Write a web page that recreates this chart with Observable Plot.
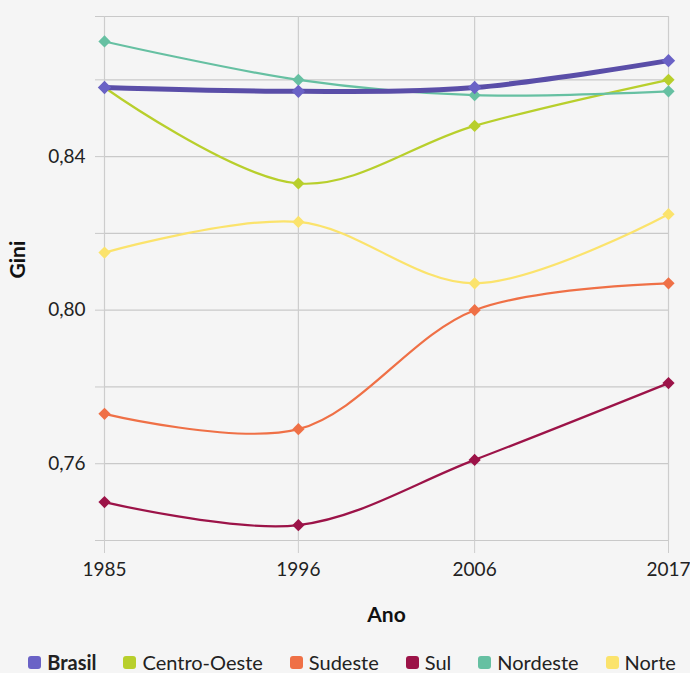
<!DOCTYPE html>
<html><head><meta charset="utf-8">
<script src="https://cdn.jsdelivr.net/npm/d3@7"></script>
<script src="https://cdn.jsdelivr.net/npm/@observablehq/plot@0.6"></script>
<style>
html,body{margin:0;padding:0;background:#f5f5f5;font-family:Lato,"Noto Sans",sans-serif;}
#chart svg{display:block;background:#f5f5f5;}
#legend{display:flex;justify-content:center;align-items:center;gap:27px;height:30px;padding-top:12px;padding-left:14px;font-size:20px;color:#222;}
#legend .item{display:flex;align-items:center;gap:6px;}
#legend .sw{width:13px;height:13px;border-radius:3px;display:inline-block;}
</style></head><body>
<div id="chart"></div>
<div id="legend"></div>
<script>
const years = [1985, 1996, 2006, 2017];
const regions = ["Brasil", "Centro-Oeste", "Sudeste", "Sul", "Nordeste", "Norte"];
const colors = ["#6a62c6", "#b8cf2c", "#ef7046", "#9c1348", "#66c0a2", "#fbe36c"];
const lineColors = ["#5a4ea8", "#b8cf2c", "#ef7046", "#9c1348", "#66c0a2", "#fbe36c"];
const brasil = [0.858, 0.857, 0.858, 0.865];
const centroOeste = [0.858, 0.833, 0.848, 0.860];
const sudeste = [0.773, 0.769, 0.800, 0.807];
const sul = [0.750, 0.744, 0.761, 0.781];
const nordeste = [0.870, 0.860, 0.856, 0.857];
const norte = [0.815, 0.823, 0.807, 0.825];
const gridValues = [0.74, 0.76, 0.78, 0.80, 0.82, 0.84, 0.86, 0.8765];
const labeledTicks = [0.76, 0.80, 0.84];
const xLabel = ["Ano"];
const yLabel = ["Gini"];

const seriesList = [brasil, centroOeste, sudeste, sul, nordeste, norte];
const data = [];
regions.forEach((r, i) => years.forEach((y, j) => data.push({region: r, year: y, value: seriesList[i][j]})));
const others = data.filter(d => d.region !== "Brasil");
const br = data.filter(d => d.region === "Brasil");

const chart = Plot.plot({
  width: 690,
  height: 635,
  marginLeft: 104,
  marginRight: 22,
  marginTop: 16,
  marginBottom: 95,
  style: {fontFamily: "Lato, 'Noto Sans', sans-serif", fontSize: "19px", color: "#222", background: "#f5f5f5"},
  x: {type: "linear", domain: [1985, 2017]},
  y: {domain: [0.74, 0.8765]},
  color: {domain: regions, range: colors},
  marks: [
    Plot.gridY({ticks: gridValues, stroke: "#c9c9c9", strokeOpacity: 1, strokeWidth: 1.2}),
    Plot.gridX({ticks: years, stroke: "#cdcdcd", strokeOpacity: 1, strokeWidth: 1.2}),
    Plot.axisY({ticks: gridValues, tickSize: 9, tickPadding: 10, stroke: "#c9c9c9", strokeOpacity: 1,
      tickFormat: d => labeledTicks.some(t => Math.abs(t - d) < 1e-9) ? d.toFixed(2).replace(".", ",") : "",
      label: null, fill: "#222", fontSize: 19}),
    Plot.axisX({ticks: years, tickSize: 13, tickPadding: 9, stroke: "#cdcdcd", strokeOpacity: 1,
      tickFormat: d => String(d), label: null, fill: "#222", fontSize: 19}),
    Plot.line(others, {x: "year", y: "value", z: "region",
      stroke: d => lineColors[regions.indexOf(d.region)], strokeWidth: 2.2, curve: "catmull-rom"}),
    Plot.dot(others, {x: "year", y: "value", fill: "region", symbol: "diamond2", r: 5.5, stroke: "none"}),
    Plot.line(br, {x: "year", y: "value", stroke: lineColors[0], strokeWidth: 5, curve: "catmull-rom"}),
    Plot.dot(br, {x: "year", y: "value", fill: colors[0], symbol: "diamond2", r: 6, stroke: "none"}),
    Plot.text(yLabel, {frameAnchor: "left", dx: -86, rotate: -90, fontWeight: "bold", fontSize: 21, fill: "#111"}),
    Plot.text(xLabel, {frameAnchor: "bottom", dy: 81, fontWeight: "bold", fontSize: 21, fill: "#111"})
  ]
});
document.getElementById("chart").appendChild(chart);

const legend = document.getElementById("legend");
regions.forEach((r, i) => {
  const item = document.createElement("span");
  item.className = "item";
  const sw = document.createElement("span");
  sw.className = "sw";
  sw.style.background = colors[i];
  const t = document.createElement("span");
  t.textContent = r;
  if (r === "Brasil") t.style.fontWeight = "bold";
  item.appendChild(sw);
  item.appendChild(t);
  legend.appendChild(item);
});
</script>
</body></html>
